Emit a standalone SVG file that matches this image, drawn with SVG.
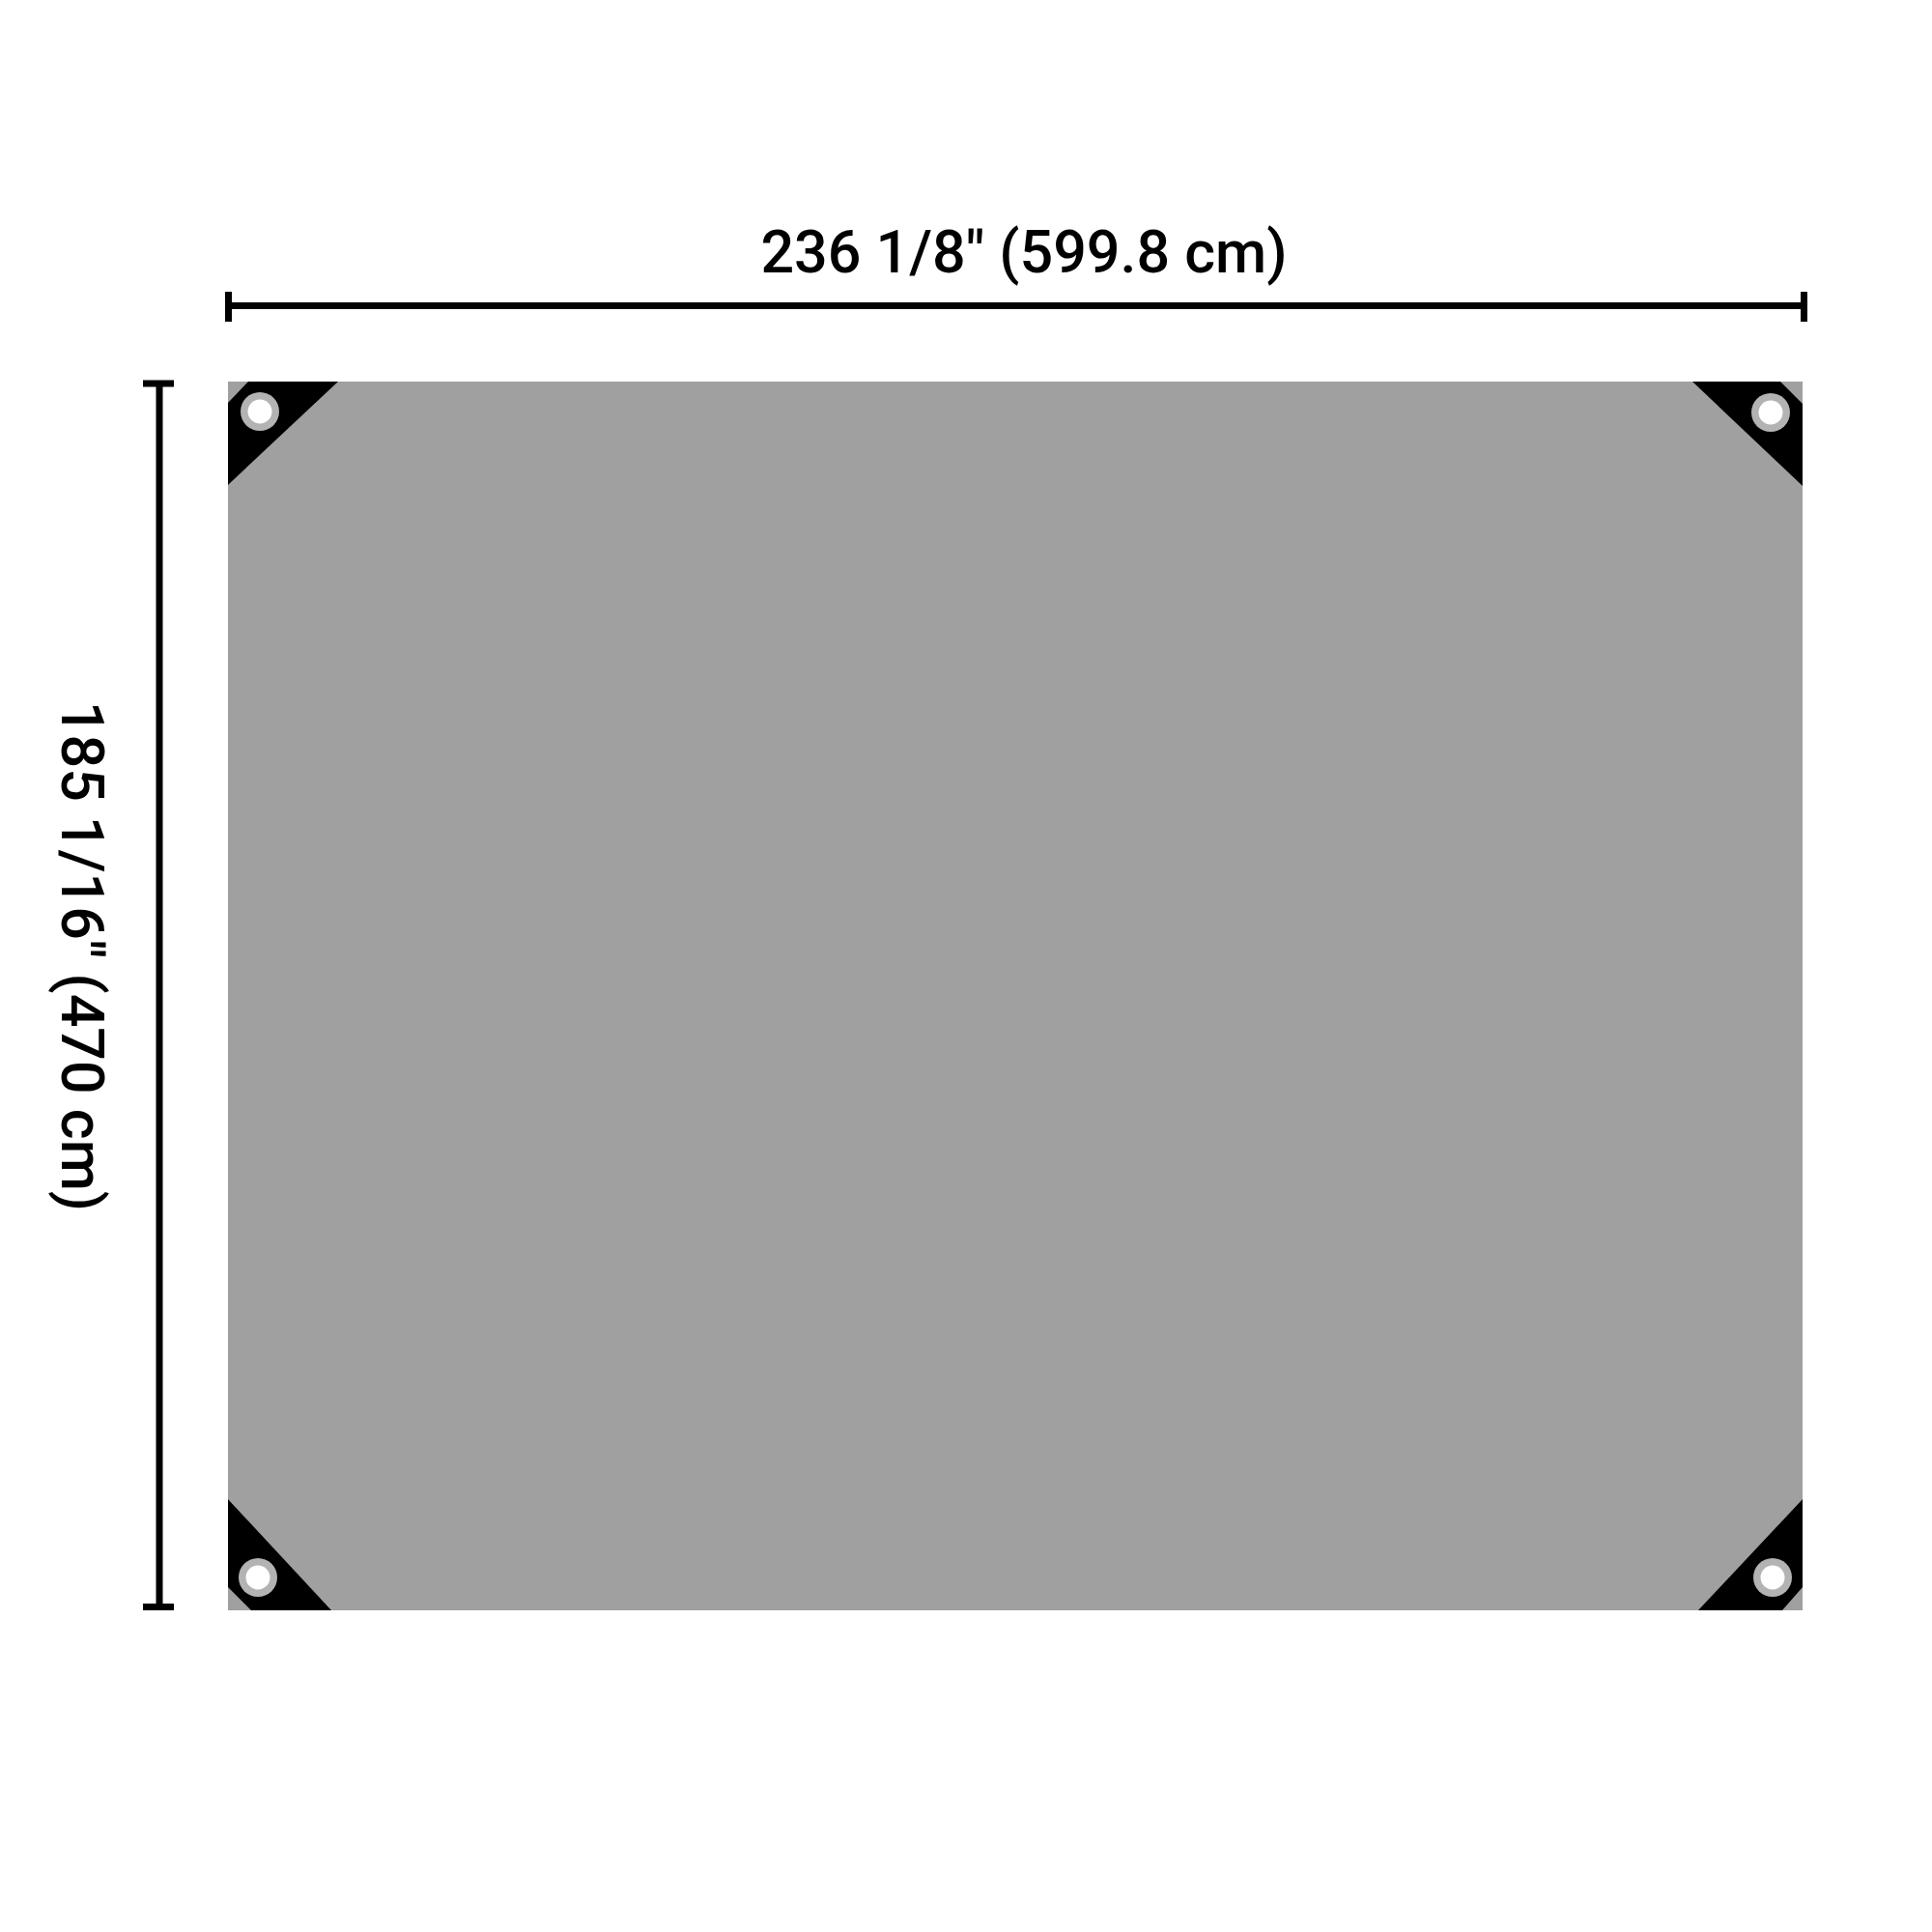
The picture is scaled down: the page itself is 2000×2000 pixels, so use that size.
<svg xmlns="http://www.w3.org/2000/svg" width="2000" height="2000" viewBox="0 0 2000 2000">
<style>
.lbl{font-family:Roboto,"Liberation Sans",sans-serif;font-weight:500;font-size:61px;fill:#000}
.dim{stroke:#000;stroke-width:7;fill:none}
.ring{fill:#b3b3b3}
.hole{fill:#fff}
.band{fill:#000}
</style>
<rect width="2000" height="2000" fill="#fff"/>
<g id="tarp">
<rect x="236" y="395" width="1630" height="1272" fill="#a0a0a0"/>
<polygon class="band" points="257,395 350,395 236,502 236,417"/>
<polygon class="band" points="1752,395 1843,395 1866,418 1866,503"/>
<polygon class="band" points="236,1552 343,1667 260,1667 236,1643"/>
<polygon class="band" points="1866,1552 1866,1643 1845,1667 1758,1667"/>
<circle class="ring" cx="269" cy="426" r="20"/><circle class="hole" cx="269" cy="426" r="12.5"/>
<circle class="ring" cx="1833" cy="427" r="20"/><circle class="hole" cx="1833" cy="427" r="12.5"/>
<circle class="ring" cx="267" cy="1633" r="20"/><circle class="hole" cx="267" cy="1633" r="12.5"/>
<circle class="ring" cx="1835" cy="1633" r="20"/><circle class="hole" cx="1835" cy="1633" r="12.5"/>
</g>
<g id="connectors">
<line class="dim" x1="236" y1="316.5" x2="1867.5" y2="316.5"/>
<line class="dim" x1="236.5" y1="302" x2="236.5" y2="333"/>
<line class="dim" x1="1867.5" y1="302" x2="1867.5" y2="333"/>
<line class="dim" x1="165" y1="397" x2="165" y2="1663.5"/>
<line class="dim" x1="148" y1="397" x2="180" y2="397"/>
<line class="dim" x1="148" y1="1663.5" x2="180" y2="1663.5"/>
</g>
<g id="width-label">
<text class="lbl" x="1060" y="282" text-anchor="middle">236 1/8" (599.8 cm)</text>
</g>
<g id="height-label">
<text class="lbl" x="0" y="0" text-anchor="middle" transform="translate(64,990) rotate(90)">185 1/16" (470 cm)</text>
</g>
</svg>
